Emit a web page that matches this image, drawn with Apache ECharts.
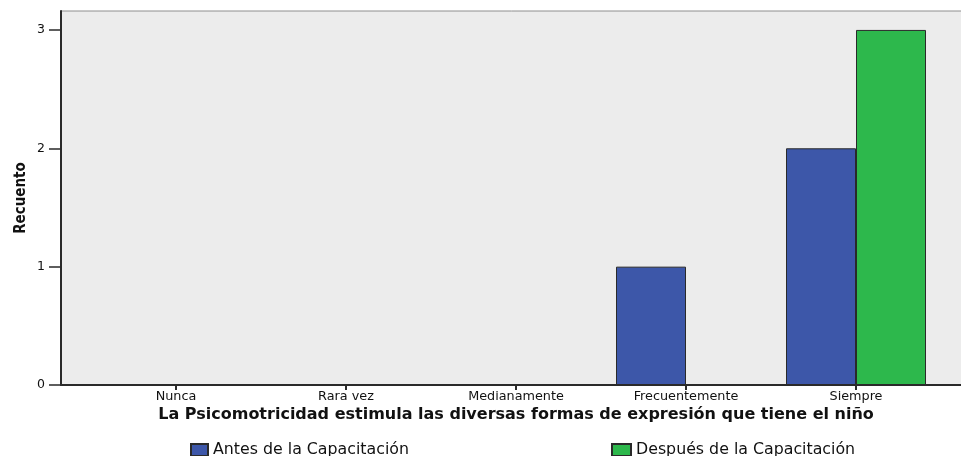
<!DOCTYPE html>
<html>
<head>
<meta charset="utf-8">
<script src="https://cdn.jsdelivr.net/npm/echarts@6/dist/echarts.min.js"></script>
<style>
html,body{margin:0;padding:0;background:#fff;}
#chart{width:961px;height:456px;}
</style>
</head>
<body>
<div id="chart"></div>
<script>
const categories = ['Nunca', 'Rara vez', 'Medianamente', 'Frecuentemente', 'Siempre'];
const antesValues = [0, 0, 0, 1, 2];
const despuesValues = [0, 0, 0, 0, 3];
const seriesNames = ['Antes de la Capacitación', 'Después de la Capacitación'];
const yTicks = [0, 1, 2, 3];
const xTitle = 'La Psicomotricidad estimula las diversas formas de expresión que tiene el niño';
const yTitle = 'Recuento';

const chart = echarts.init(document.getElementById('chart'));
const axisDark = '#2a2a2a';
const fontFam = 'DejaVu Sans';

chart.setOption({
  animation: false,
  backgroundColor: '#ffffff',
  grid: [
    { left: 91, width: 850, top: 11, bottom: 71, containLabel: false, outerBoundsMode: 'none' },
    { left: 61, right: -10, top: 11, bottom: 71, show: true, backgroundColor: '#ececec', borderColor: '#8e8e8e', borderWidth: 1, z: 0, containLabel: false, outerBoundsMode: 'none' }
  ],
  legend: [
    { data: [seriesNames[0]], left: 190, top: 442, padding: 0, itemWidth: 17, itemHeight: 12, icon: 'rect',
      textStyle: { fontFamily: fontFam, fontSize: 15.8, color: '#111' } },
    { data: [seriesNames[1]], left: 611, top: 442, padding: 0, itemWidth: 19, itemHeight: 12, icon: 'rect',
      textStyle: { fontFamily: fontFam, fontSize: 15.8, color: '#111' } }
  ],
  xAxis: [
    { type: 'category', gridIndex: 0, data: categories,
      axisLine: { show: true, lineStyle: { color: axisDark, width: 2 } },
      axisTick: { show: true, alignWithLabel: true, length: 5, lineStyle: { color: axisDark, width: 2 } },
      axisLabel: { fontFamily: fontFam, fontSize: 12.8, color: '#111', margin: 5 },
      name: xTitle, nameLocation: 'middle', nameGap: 22, nameMoveOverlap: false,
      nameTextStyle: { fontFamily: fontFam, fontWeight: 'bold', fontSize: 16, color: '#111' },
      splitLine: { show: false }
    },
    { type: 'value', gridIndex: 1, min: 0, max: 1,
      axisLine: { show: true, lineStyle: { color: axisDark, width: 2 } },
      axisTick: { show: false }, axisLabel: { show: false }, splitLine: { show: false }
    }
  ],
  yAxis: [
    { type: 'value', gridIndex: 0, min: 0, max: 3.16, interval: 1, offset: 30,
      axisLine: { show: true, lineStyle: { color: axisDark, width: 2 } },
      axisTick: { show: true, length: 12, customValues: yTicks, lineStyle: { color: axisDark, width: 1.5 } },
      axisLabel: { customValues: yTicks, fontFamily: fontFam, fontSize: 12.5, color: '#111', margin: 16 },
      splitLine: { show: false },
      name: yTitle, nameLocation: 'middle', nameGap: 32, nameRotate: 90, nameMoveOverlap: false,
      nameTextStyle: { fontFamily: 'DejaVu Sans Condensed', fontWeight: 'bold', fontSize: 15, color: '#111' }
    },
    { type: 'value', gridIndex: 1, show: false }
  ],
  series: [
    { name: seriesNames[0], type: 'bar', xAxisIndex: 0, yAxisIndex: 0, data: antesValues,
      barWidth: 70, barGap: '0%',
      itemStyle: { color: '#3d57a9', borderColor: '#2a2a2a', borderWidth: 1 } },
    { name: seriesNames[1], type: 'bar', xAxisIndex: 0, yAxisIndex: 0, data: despuesValues,
      barWidth: 70, barGap: '0%',
      itemStyle: { color: '#2db84c', borderColor: '#2a2a2a', borderWidth: 1 } }
  ]
});
</script>
</body>
</html>
